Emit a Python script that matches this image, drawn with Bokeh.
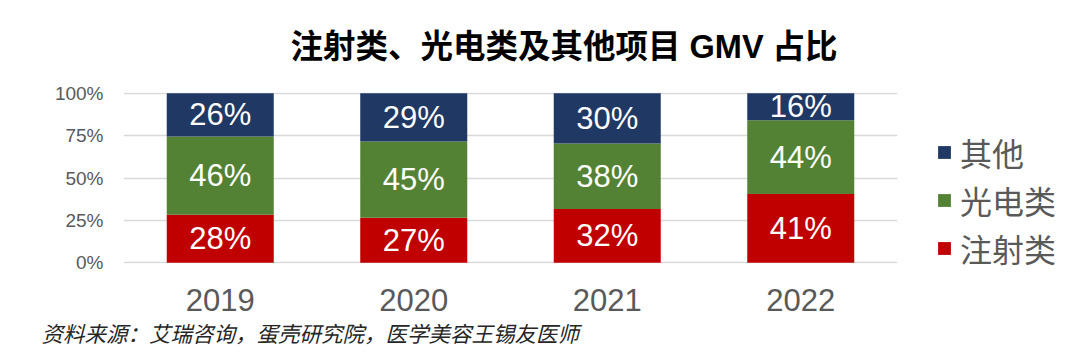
from bokeh.plotting import figure
from bokeh.models import (ColumnDataSource, FactorRange, FixedTicker, NumeralTickFormatter,
                          Title, Legend, LegendItem)
from bokeh.embed import file_html
from bokeh.resources import INLINE

years = ["2019", "2020", "2021", "2022"]
injection = [0.284, 0.266, 0.318, 0.405]
photo = [0.460, 0.449, 0.385, 0.436]
other = [0.256, 0.285, 0.297, 0.159]
injection_labels = ["28%", "27%", "32%", "41%"]
photo_labels = ["46%", "45%", "38%", "44%"]
other_labels = ["26%", "29%", "30%", "16%"]
series_names = ["注射类", "光电类", "其他"]
title_text = "注射类、光电类及其他项目 GMV 占比"
source_text = "资料来源：艾瑞咨询，蛋壳研究院，医学美容王锡友医师"

colors = ["#C00000", "#548235", "#203864"]
gray = "#595959"

src = ColumnDataSource(dict(years=years, injection=injection, photo=photo, other=other))

p = figure(x_range=FactorRange(factors=years, range_padding=0), y_range=(-0.004, 1.004),
           frame_width=774, frame_height=171, output_backend="svg", toolbar_location=None,
           min_border_left=123, min_border_right=0, min_border_top=92, min_border_bottom=0)
p.outline_line_color = None

renderers = p.vbar_stack(["injection", "photo", "other"], x="years", width=0.553,
                         color=colors, line_color=None, source=src)

inj_mid, pho_mid, oth_mid = [], [], []
for a, b, c in zip(injection, photo, other):
    inj_mid.append(a / 2)
    pho_mid.append(a + b / 2)
    oth_mid.append(a + b + c / 2)
lab_src = ColumnDataSource(dict(
    x=years * 3,
    y=inj_mid + pho_mid + oth_mid,
    t=injection_labels + photo_labels + other_labels))
p.text(x="x", y="y", text="t", source=lab_src, text_color="white",
       text_font_size="31px", text_font={"value": "Liberation Sans"},
       text_align="center", text_baseline="middle")

p.yaxis.ticker = FixedTicker(ticks=[0, 0.25, 0.5, 0.75, 1.0])
p.yaxis.formatter = NumeralTickFormatter(format="0%")
p.yaxis.axis_line_color = None
p.yaxis.major_tick_line_color = None
p.yaxis.major_tick_out = 0
p.yaxis.major_tick_in = 0
p.yaxis.minor_tick_line_color = None
p.yaxis.major_label_text_font = "Liberation Sans"
p.yaxis.major_label_text_font_size = "19px"
p.yaxis.major_label_text_color = gray
p.yaxis.major_label_standoff = 20

p.xaxis.axis_line_color = None
p.xaxis.major_tick_line_color = None
p.xaxis.major_tick_out = 0
p.xaxis.major_tick_in = 0
p.xaxis.major_label_text_font = "Liberation Sans"
p.xaxis.major_label_text_font_size = "31px"
p.xaxis.major_label_text_color = gray
p.xaxis.major_label_standoff = 25

p.xgrid.grid_line_color = None
p.ygrid.grid_line_color = "#D9D9D9"
p.ygrid.grid_line_width = 1.5

# title above
p.add_layout(Title(text=title_text, text_font="Liberation Sans, Noto Sans CJK SC",
                   text_font_style="bold", text_font_size="32.5px", text_color="black",
                   align="left", offset=167, vertical_align="top", standoff=51), "above")

# source below
p.add_layout(Title(text=source_text, text_font="Noto Sans CJK SC", text_font_style="italic",
                   text_font_size="21.5px", text_color="#262626", align="left", offset=-82,
                   standoff=3), "below")

# legend on the right
items = [LegendItem(label=series_names[2], renderers=[renderers[2]]),
         LegendItem(label=series_names[1], renderers=[renderers[1]]),
         LegendItem(label=series_names[0], renderers=[renderers[0]])]
legend = Legend(items=items, location=(39, -8), glyph_width=16, glyph_height=16,
                label_text_font="Noto Sans CJK SC", label_text_font_size="32px",
                label_text_color=gray, label_standoff=8, spacing=2, padding=0, margin=0,
                border_line_color=None, background_fill_alpha=0)
p.add_layout(legend, "right")

open("out.html", "w").write(file_html(p, INLINE))
